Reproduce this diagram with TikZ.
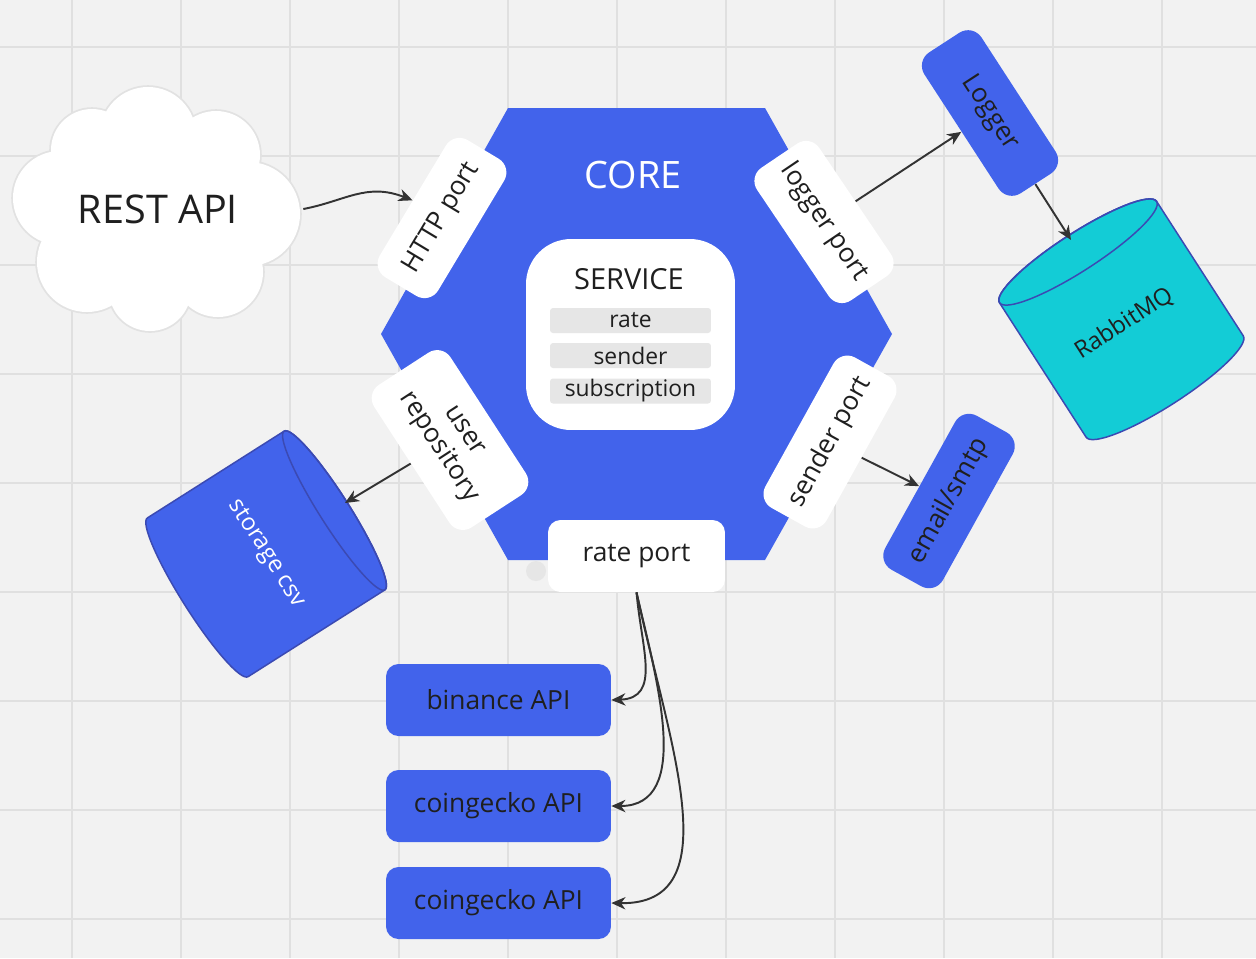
\documentclass[tikz,border=0pt]{standalone}
\usepackage{fontspec}
\setmainfont{Open Sans}
\usetikzlibrary{arrows.meta}
\definecolor{bg}{HTML}{F2F2F2}
\definecolor{gridc}{HTML}{E0E0E0}
\definecolor{mblue}{HTML}{4263EB}
\definecolor{ink}{HTML}{1F1F1F}
\definecolor{arrc}{HTML}{333333}
\definecolor{cylb}{HTML}{3B4AB3}
\definecolor{cyanf}{HTML}{13CCD6}
\definecolor{itemg}{HTML}{E6E6E6}
\definecolor{cloudb}{HTML}{E2E2E2}
\begin{document}
\begin{tikzpicture}[x=0.02cm,y=0.02cm,
  portbox/.style={fill=white, rounded corners=0.32cm, inner sep=0pt, text=ink, font=\fontsize{15}{17.5}\selectfont, align=center},
  bluebox/.style={fill=mblue, rounded corners=0.32cm, inner sep=0pt, text=ink, font=\fontsize{15}{17.5}\selectfont},
  apibox/.style={fill=mblue, rounded corners=0.25cm, minimum width=4.5cm, minimum height=1.44cm, inner sep=0pt, text=ink, font=\fontsize{15}{17.5}\selectfont},
  itembox/.style={fill=itemg, rounded corners=0.06cm, minimum width=3.22cm, minimum height=0.5cm, inner sep=0pt, text=ink, font=\fontsize{13}{15}\selectfont},
  arr/.style={draw=arrc, line width=1.1pt, -{Stealth[length=8pt,width=7pt,inset=2.5pt]}},
  cylline/.style={draw=cylb, line width=0.85pt},
]
\fill[bg] (0,0) rectangle (1256,-958);
\useasboundingbox (0,0) rectangle (1256,-958);
% grid
\foreach \gx in {72,181,...,1162} \draw[gridc, line width=0.85pt] (\gx,0) -- (\gx,-958);
\foreach \gy in {47,156,...,919} \draw[gridc, line width=0.85pt] (0,-\gy) -- (1256,-\gy);

% cloud
\foreach \cx/\cy/\r in {148/135/48, 92/150/41, 216/155/44, 60/198/47, 248/214/52, 87/262/50, 150/290/41, 218/272/45}
  \fill[cloudb] (\cx,-\cy) circle[radius=\r+1.8];
\foreach \cx/\cy/\r in {148/135/48, 92/150/41, 216/155/44, 60/198/47, 248/214/52, 87/262/50, 150/290/41, 218/272/45}
  \fill[white] (\cx,-\cy) circle[radius=\r];
\fill[white] (155,-212) circle[radius=80];
\node[minimum width=5.8cm, minimum height=3cm, inner sep=0pt, text=ink, font=\fontsize{22.5}{26}\selectfont] (rest) at (158,-209) {REST API};

% small dot
\fill[itemg] (536,-571) circle[radius=10];

% hexagon core
\fill[mblue] (381,-334) -- (508,-108) -- (765,-108) -- (892,-334) -- (765,-560) -- (508,-560) -- cycle;
\node[text=white, font=\fontsize{21.5}{25}\selectfont] (core) at (633,-175) {CORE};

% service
\node[fill=white, rounded corners=0.9cm, minimum width=4.18cm, minimum height=3.82cm] (service) at (630.5,-334.5) {};
\node[text=ink, font=\fontsize{16.5}{20}\selectfont] (servicet) at (629,-279) {SERVICE};
\node[itembox] (irate) at (630.5,-320.5) {rate};
\node[itembox] (isender) at (630.5,-355.5) {sender};
\node[itembox] (isub) at (630.5,-391) {subscription};

% ports
\node[portbox, rotate=59, minimum width=3.2cm, minimum height=1.36cm] (http) at (442,-218) {HTTP port};
\node[portbox, rotate=-56, minimum width=3.2cm, minimum height=1.5cm] (lport) at (824,-222) {logger port};
\node[portbox, rotate=-57, minimum width=3.4cm, minimum height=1.82cm] (urepo) at (450,-440) {user\\repository};
\node[portbox, rotate=61, minimum width=3.44cm, minimum height=1.4cm] (sport) at (830,-442) {sender port};
\node[portbox, rounded corners=0.25cm, minimum width=3.54cm, minimum height=1.44cm] (rport) at (636.5,-556) {rate port};

% external blue boxes
\node[bluebox, rotate=-57, minimum width=3.36cm, minimum height=1.36cm] (logger) at (990,-113) {Logger};
\node[bluebox, rotate=61, minimum width=3.52cm, minimum height=1.32cm] (email) at (949,-501) {email/smtp};

\node[apibox] (binance) at (498.5,-700) {binance API};
\node[apibox] (cg1) at (498.5,-806) {coingecko API};
\node[apibox] (cg2) at (498.5,-903) {coingecko API};

% RabbitMQ cylinder
\begin{scope}[shift={(1078,-252)}, rotate=32.8]
  \filldraw[fill=cyanf, cylline] (-93.5,0) -- (-93.5,-160) arc[start angle=180,end angle=360,x radius=93.5,y radius=19] -- (93.5,0) arc[start angle=0,end angle=180,x radius=93.5,y radius=19] -- cycle;
  \draw[cylline] (0,0) ellipse[x radius=93.5, y radius=19];
  \node[text=ink, rotate=32.8, font=\fontsize{13.5}{16}\selectfont] (rabbit) at (0,-85) {RabbitMQ};
\end{scope}
\coordinate (rabbitin) at (1071,-240);

% storage cylinder
\begin{scope}[shift={(334.5,-510.5)}, rotate=-57.6]
  \filldraw[fill=mblue, cylline] (-94,0) -- (-94,-162) arc[start angle=180,end angle=360,x radius=94,y radius=15] -- (94,0) arc[start angle=0,end angle=180,x radius=94,y radius=15] -- cycle;
  \draw[cylline] (0,0) ellipse[x radius=94, y radius=15];
  \node[text=white, rotate=-57.6, font=\fontsize{13.5}{16}\selectfont] (storage) at (0,-81) {storage csv};
\end{scope}
\coordinate (storin) at (345,-503);

% connectors
\draw[arr] (rest.east) .. controls +(42,8) and +(-46,18) .. (http.north);
\draw[arr] (lport) -- (logger);
\draw[arr] (logger) -- (rabbitin);
\draw[arr] (sport) -- (email);
\draw[arr] (urepo) -- (storin);
\draw[arr] (rport.south) .. controls +(5,-57) and +(50,2) .. (binance.east);
\draw[arr] (rport.south) .. controls +(20,-87) and +(82,0) .. (cg1.east);
\draw[arr] (rport.south) .. controls +(32,-150) and +(120,-2) .. (cg2.east);
\end{tikzpicture}
\end{document}
